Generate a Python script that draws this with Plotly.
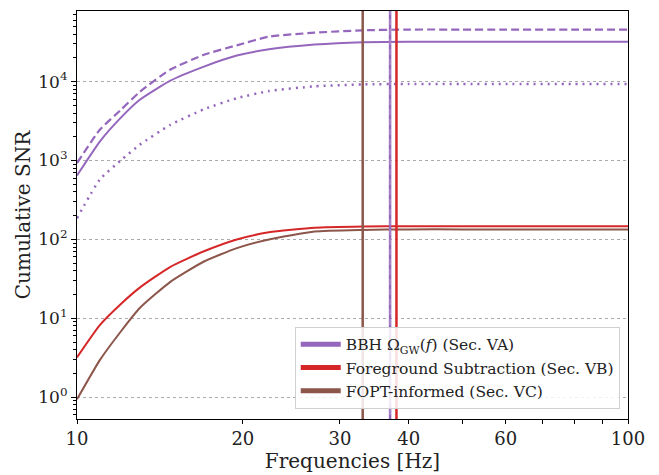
import plotly.graph_objects as go

# Frequencies [Hz]
freqs = [10, 11, 12, 13, 14.75, 17, 19.5, 22.3, 27, 33, 40, 50, 60, 80, 100]

# BBH Omega_GW(f) scenarios (solid, dashed, dotted)
bbh_solid = [646, 1738, 3467, 5888, 10230, 15490, 21380, 25700, 29500, 31600, 32000, 32000, 32000, 32000, 32000]
bbh_dashed = [927, 2455, 4365, 7400, 14130, 21880, 28840, 37150, 41700, 44700, 45700, 45700, 45700, 45700, 45700]
bbh_dotted = [186, 575, 1000, 1585, 2818, 4467, 6166, 7586, 8710, 9230, 9330, 9330, 9330, 9330, 9330]

# Foreground subtraction
fg_sub = [3.2, 8.2, 15.1, 24.5, 44.7, 70.8, 100, 123, 141, 146, 147, 147, 147, 147, 147]
# FOPT-informed
fopt = [0.94, 2.95, 6.76, 13.5, 28.8, 52.5, 77.6, 100, 126, 132, 134, 134, 134, 134, 134]

# Vertical marker frequencies [Hz]
vline_bbh = 37.0
vline_fg = 38.0
vline_fopt = 33.0

legend_labels = [
    "BBH Ω<sub>GW</sub>(<i>f</i>) (Sec. VA)",
    "Foreground Subtraction (Sec. VB)",
    "FOPT-informed (Sec. VC)",
]

x_tickvals = [10, 20, 30, 40, 60, 100]
x_ticktext = ["10", "20", "30", "40", "60", "100"]
y_tickvals = [1, 10, 100, 1000, 10000]
y_ticktext = ["10<sup>0</sup>", "10<sup>1</sup>", "10<sup>2</sup>", "10<sup>3</sup>", "10<sup>4</sup>"]

PURPLE = "#9467bd"
RED = "#d62728"
BROWN = "#8c564b"

fig = go.Figure()

def add_line(x, y, color, width=2, dash="solid"):
    fig.add_trace(go.Scatter(x=x, y=y, mode="lines", showlegend=False,
                             line=dict(color=color, width=width, dash=dash, shape="spline", smoothing=0.5),
                             hoverinfo="skip"))

add_line(freqs, bbh_solid, PURPLE)
add_line(freqs, bbh_dashed, PURPLE, dash="8px,4px", width=2.2)
add_line(freqs, bbh_dotted, PURPLE, dash="2px,5px", width=2.5)
add_line(freqs, fg_sub, RED)
add_line(freqs, fopt, BROWN)

ylo, yhi = 0.01, 1e6
for xv, col in [(vline_fopt, BROWN), (vline_bbh, PURPLE), (vline_fg, RED)]:
    fig.add_trace(go.Scatter(x=[xv, xv], y=[ylo, yhi], mode="lines", showlegend=False,
                             line=dict(color=col, width=2.5), hoverinfo="skip"))
fig.add_trace(go.Scatter(x=[vline_bbh, vline_bbh], y=[ylo, yhi], mode="lines", showlegend=False,
                         line=dict(color="rgba(255,255,255,0.35)", width=1, dash="6px,4px"), hoverinfo="skip"))

for lab, col in zip(legend_labels, [PURPLE, RED, BROWN]):
    fig.add_trace(go.Scatter(x=[None], y=[None], mode="lines", name=lab,
                             line=dict(color=col, width=5)))

FONT = "DejaVu Serif"

fig.update_layout(
    width=659, height=475,
    margin=dict(l=77, r=31, t=11, b=56, autoexpand=False),
    paper_bgcolor="white", plot_bgcolor="white",
    font=dict(family=FONT, color="#222", size=18),
    legend=dict(x=0.985, y=0.025, xanchor="right", yanchor="bottom",
                bgcolor="rgba(255,255,255,0.85)", bordercolor="#d0d0d0", borderwidth=1,
                font=dict(family=FONT, size=15.5, color="#222"), tracegroupgap=0,
                itemwidth=40),
)

fig.update_xaxes(
    type="log", range=[1, 2], automargin=False,
    tickvals=x_tickvals, ticktext=x_ticktext,
    ticks="outside", ticklen=3.5, tickwidth=1, tickcolor="black",
    showline=True, linecolor="black", linewidth=1.2, mirror=True,
    showgrid=False, zeroline=False,
    tickfont=dict(family=FONT, size=18),
    title=dict(text="Frequencies [Hz]", font=dict(family=FONT, size=20), standoff=2),
    minor=dict(tickvals=[50, 70, 80, 90], ticks="outside", ticklen=3.5, tickcolor="black", showgrid=False),
)

fig.update_yaxes(
    type="log", range=[-0.276, 4.895], automargin=False,
    tickvals=y_tickvals, ticktext=y_ticktext,
    ticks="outside", ticklen=5, tickwidth=1, tickcolor="black",
    showline=True, linecolor="black", linewidth=1.2, mirror=True,
    showgrid=True, gridcolor="#aaaaaa", griddash="dot", gridwidth=1,
    zeroline=False,
    tickfont=dict(family=FONT, size=17),
    title=dict(text="Cumulative SNR", font=dict(family=FONT, size=20), standoff=2),
    minor=dict(dtick="D1", ticks="outside", ticklen=3, tickcolor="black", showgrid=False),
)

fig.write_html("out.html")
